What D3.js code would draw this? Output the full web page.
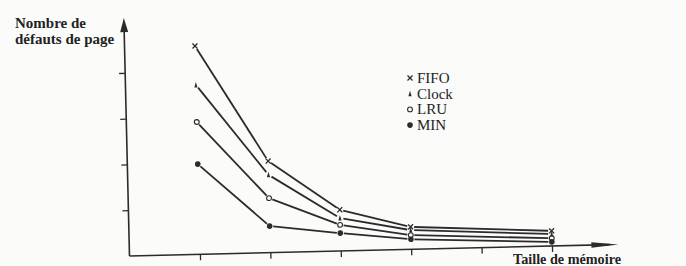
<!DOCTYPE html>
<html>
<head>
<meta charset="utf-8">
<script src="https://cdn.jsdelivr.net/npm/d3@7"></script>
<style>
  body { margin: 0; background: #fbfbfa; }
  text { font-family: "Liberation Serif", "DejaVu Serif", serif; fill: #222; }
</style>
</head>
<body>
<div id="chart"></div>
<script>
const w = 686,
      h = 266;

// memory size steps (x) and page fault counts (y, in tick units)
const sizes = [1, 2, 3, 4, 6];
const xTicks = [1, 2, 3, 4, 5, 6];
const yTicks = [1, 2, 3, 4];
const fifo  = [4.55, 2.00, 0.90, 0.49, 0.33];
const clock = [3.70, 1.70, 0.72, 0.42, 0.26];
const lru   = [2.89, 1.19, 0.57, 0.31, 0.17];
const minv  = [1.97, 0.58, 0.39, 0.22, 0.09];
const seriesNames = ['FIFO', 'Clock', 'LRU', 'MIN'];
const seriesValues = [fifo, clock, lru, minv];

const ink = '#2b2b2b';

const svg = d3.select('#chart').append('svg')
              .attr('width', w)
              .attr('height', h);

// the scan is slightly tilted, so the plot sits in a rotated group
const g = svg.append('g').attr('transform', 'translate(129.5,256) rotate(-1.36)');

const x = d3.scaleLinear().domain([0, 7]).range([0, 493]);
const y = d3.scaleLinear().domain([0, 5]).range([0, -229]);

// axes (ticks only, domain drawn by hand with arrow heads)
const xAxis = g.append('g').call(d3.axisBottom(x).tickValues(xTicks).tickSize(6).tickFormat(''));
const yAxis = g.append('g').call(d3.axisLeft(y).tickValues(yTicks).tickSize(6).tickFormat(''));
[xAxis, yAxis].forEach(a => {
    a.select('.domain').remove();
    a.selectAll('line').attr('stroke', ink).attr('stroke-width', 1.3);
});

g.append('line').attr('x1', 0).attr('y1', 0).attr('x2', 480).attr('y2', 0)
 .attr('stroke', ink).attr('stroke-width', 1.6);
g.append('line').attr('x1', 0).attr('y1', 0).attr('x2', 0).attr('y2', -228)
 .attr('stroke', ink).attr('stroke-width', 1.6);
g.append('path').attr('d', 'M489,0 L462,-2.8 L462,2.8 Z').attr('fill', ink);
g.append('path').attr('d', 'M0,-238 L-4,-224 L4,-224 Z').attr('fill', ink);

// line segments, shortened a bit at each end so they don't touch markers
const gap = 3.5;
seriesValues.forEach(vals => {
    for (let i = 0; i < vals.length - 1; i++) {
        let x1 = x(sizes[i]), y1 = y(vals[i]), x2 = x(sizes[i + 1]), y2 = y(vals[i + 1]);
        let len = Math.hypot(x2 - x1, y2 - y1), ux = (x2 - x1) / len, uy = (y2 - y1) / len;
        g.append('line')
         .attr('x1', x1 + ux * gap).attr('y1', y1 + uy * gap)
         .attr('x2', x2 - ux * gap).attr('y2', y2 - uy * gap)
         .attr('stroke', ink).attr('stroke-width', 1.8);
    }
});

const drawMarker = (sel, k, cx, cy) => {
    if (k === 0) {
        sel.append('path').attr('d', `M${cx-2.5},${cy-2.5}L${cx+2.5},${cy+2.5}M${cx-2.5},${cy+2.5}L${cx+2.5},${cy-2.5}`)
           .attr('stroke', ink).attr('stroke-width', 1.3);
    } else if (k === 1) {
        sel.append('path').attr('d', `M${cx},${cy-3} L${cx-1.6},${cy+2.5} L${cx+1.6},${cy+2.5} Z`).attr('fill', ink);
    } else if (k === 2) {
        sel.append('circle').attr('cx', cx).attr('cy', cy).attr('r', 2.4)
           .attr('fill', 'none').attr('stroke', ink).attr('stroke-width', 1.1);
    } else {
        sel.append('circle').attr('cx', cx).attr('cy', cy).attr('r', 2.8).attr('fill', ink);
    }
};

seriesValues.forEach((vals, k) => {
    vals.forEach((v, i) => drawMarker(g, k, x(sizes[i]), y(v)));
});

// legend
const legend = svg.append('g').attr('transform', 'translate(410,78)');
seriesNames.forEach((name, k) => {
    drawMarker(legend, k, 0, k * 15.7);
    legend.append('text').attr('x', 7).attr('y', k * 15.7 + 5)
          .attr('font-size', 15).text(name);
});

// axis titles
svg.append('text').attr('x', 15).attr('y', 28).attr('font-size', 15).attr('font-weight', 'bold').text('Nombre de');
svg.append('text').attr('x', 15).attr('y', 44).attr('font-size', 15).attr('font-weight', 'bold').text('défauts de page');
svg.append('text').attr('x', 513).attr('y', 264).attr('font-size', 14.2).attr('font-weight', 'bold').text('Taille de mémoire');
</script>
</body>
</html>
